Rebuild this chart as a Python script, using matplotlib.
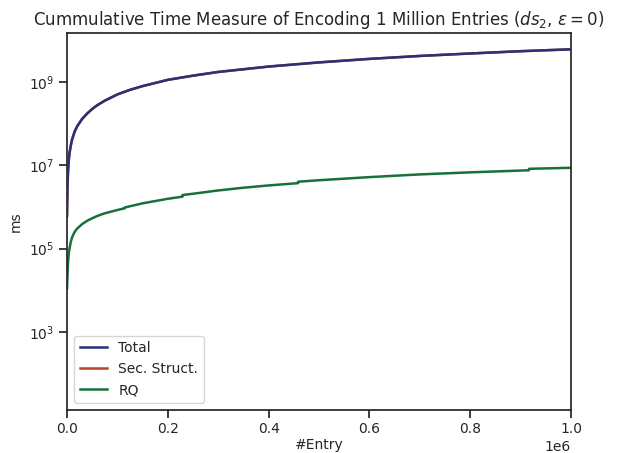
import matplotlib
matplotlib.use("Agg")
import matplotlib.pyplot as plt
from matplotlib.ticker import FixedLocator, NullLocator, LogFormatterSciNotation

# entries (x) for Total / Sec. Struct.
entries = [0, 1000, 2000, 3500, 5000, 7500, 10000, 15000, 20000, 30000, 40000,
           50000, 60000, 75000, 100000, 125000, 150000, 200000, 250000, 300000,
           400000, 500000, 600000, 700000, 800000, 900000, 1000000]
total_ms = [6.3e5, 3.16e6, 7.08e6, 1.35e7, 2.0e7, 3.02e7, 4.17e7, 6.46e7, 8.71e7, 1.32e8, 1.78e8,
            2.29e8, 2.82e8, 3.63e8, 5.13e8, 6.61e8, 8.13e8, 1.15e9, 1.45e9, 1.78e9,
            2.40e9, 3.02e9, 3.67e9, 4.32e9, 4.95e9, 5.62e9, 6.24e9]
sec_struct_ms = [6.0e5, 3.13e6, 7.03e6, 1.34e7, 1.99e7, 3.00e7, 4.15e7, 6.43e7, 8.68e7, 1.316e8, 1.775e8,
                 2.285e8, 2.814e8, 3.623e8, 5.121e8, 6.60e8, 8.118e8, 1.1484e9, 1.4481e9, 1.7775e9,
                 2.3966e9, 3.0159e9, 3.6648e9, 4.3143e9, 4.9436e9, 5.6128e9, 6.2312e9]

# entries (x) for RQ, with the step jumps
rq_entries = [0, 1000, 2000, 3500, 5000, 7500, 10000, 15000, 20000, 30000, 40000,
              50000, 60000, 75000, 100000, 114600, 114600, 150000, 200000,
              229200, 229200, 250000, 300000, 350000, 400000, 458400, 458400,
              500000, 600000, 700000, 800000, 900000, 916800, 916800, 1000000]
rq_ms = [1.1e4, 2.4e4, 4.47e4, 7.6e4, 1.0e5, 1.45e5, 1.86e5, 2.51e5, 3.02e5, 3.89e5, 4.68e5,
         5.37e5, 6.1e5, 7.08e5, 8.51e5, 9.33e5, 9.77e5, 1.23e6, 1.58e6,
         1.78e6, 1.95e6, 2.09e6, 2.51e6, 2.92e6, 3.31e6, 3.76e6, 4.07e6,
         4.42e6, 5.25e6, 6.1e6, 6.84e6, 7.55e6, 7.67e6, 8.32e6, 8.81e6]

y_ticks = [1e3, 1e5, 1e7, 1e9]

plt.rcParams.update({
    "font.family": "DejaVu Sans",
    "font.size": 10,
    "text.color": ".15",
    "axes.labelcolor": ".15",
    "xtick.color": ".15",
    "ytick.color": ".15",
    "axes.edgecolor": ".15",
    "axes.linewidth": 1.25,
    "xtick.major.size": 6,
    "ytick.major.size": 6,
    "xtick.major.width": 1.25,
    "ytick.major.width": 1.25,
    "xtick.major.pad": 3,
})

fig = plt.figure(figsize=(6.19, 4.53), dpi=100)
ax = fig.add_axes([67/619, 1 - 409.5/453, (571-67)/619, (409.5-33.3)/453])

ax.plot(entries, total_ms, color="#2b3077", lw=1.8, label="Total", zorder=3)
ax.plot(entries, sec_struct_ms, color="#b4452a", lw=1.8, label="Sec. Struct.", zorder=2)
ax.plot(rq_entries, rq_ms, color="#18703e", lw=1.8, label="RQ", zorder=2)

ax.set_yscale("log")
ax.set_xlim(0, 1e6)
ax.set_ylim(10**1.13, 10**10.18)
ax.yaxis.set_major_locator(FixedLocator(y_ticks))
ax.yaxis.set_major_formatter(LogFormatterSciNotation())
ax.yaxis.set_minor_locator(NullLocator())

ax.set_xlabel("#Entry", labelpad=1.5)
ax.set_ylabel("ms")
ax.set_title(r"Cummulative Time Measure of Encoding 1 Million Entries ($ds_2$, $\epsilon = 0$)",
             fontsize=12)
ax.legend(loc="lower left")

fig.savefig("out.png", dpi=100)
